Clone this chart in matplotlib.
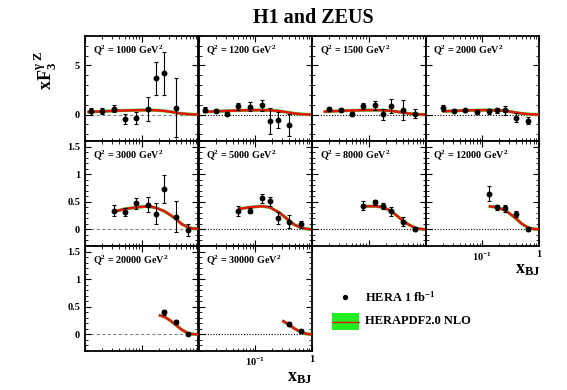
import numpy as np
import matplotlib
matplotlib.use("Agg")
import matplotlib.pyplot as plt
from matplotlib.ticker import MultipleLocator, LogLocator, NullFormatter, FixedLocator
from matplotlib.patches import Rectangle
from matplotlib.lines import Line2D

plt.rcParams['font.family'] = ['Liberation Serif', 'DejaVu Serif']
plt.rcParams['font.weight'] = 'bold'
plt.rcParams['mathtext.fontset'] = 'custom'
plt.rcParams['mathtext.rm'] = 'Liberation Serif:bold'
plt.rcParams['mathtext.it'] = 'Liberation Serif:bold'
plt.rcParams['mathtext.bf'] = 'Liberation Serif:bold'

# ---------------- data ----------------
q2_values = [1000, 1200, 1500, 2000, 3000, 5000, 8000, 12000, 20000, 30000]

data_x = [
    [0.013, 0.02, 0.032, 0.05, 0.08, 0.13, 0.18, 0.25, 0.40],
    [0.013, 0.02, 0.032, 0.05, 0.08, 0.13, 0.18, 0.25, 0.40],
    [0.02, 0.032, 0.05, 0.08, 0.13, 0.18, 0.25, 0.40, 0.65],
    [0.02, 0.032, 0.05, 0.08, 0.13, 0.18, 0.25, 0.40, 0.65],
    [0.032, 0.05, 0.08, 0.13, 0.18, 0.25, 0.40, 0.65],
    [0.05, 0.08, 0.13, 0.18, 0.25, 0.40, 0.65],
    [0.08, 0.13, 0.18, 0.25, 0.40, 0.65],
    [0.13, 0.18, 0.25, 0.40, 0.65],
    [0.25, 0.40, 0.65],
    [0.40, 0.65],
]
data_y = [
    [0.34, 0.37, 0.61, -0.44, -0.34, 0.58, 3.7, 4.2, 0.68],
    [0.51, 0.37, 0.10, 0.82, 0.78, 0.92, -0.65, -0.54, -1.05],
    [0.54, 0.51, 0.03, 0.88, 0.95, 0.03, 0.88, 0.48, 0.07],
    [0.68, 0.37, 0.44, 0.24, 0.31, 0.41, 0.41, -0.34, -0.65],
    [0.34, 0.31, 0.47, 0.45, 0.28, 0.73, 0.23, -0.01],
    [0.34, 0.34, 0.56, 0.51, 0.21, 0.14, 0.09],
    [0.43, 0.49, 0.42, 0.33, 0.14, 0.00],
    [0.65, 0.40, 0.38, 0.28, 0.00],
    [0.40, 0.23, 0.01],
    [0.19, 0.06],
]
data_err = [
    [0.35, 0.30, 0.40, 0.50, 0.60, 1.25, 1.70, 2.20, 3.00],
    [0.25, 0.20, 0.20, 0.40, 0.45, 0.60, 1.35, 0.80, 1.10],
    [0.20, 0.20, 0.20, 0.30, 0.45, 0.55, 0.75, 1.00, 0.45],
    [0.30, 0.15, 0.15, 0.15, 0.30, 0.30, 0.45, 0.45, 0.35],
    [0.10, 0.07, 0.10, 0.14, 0.19, 0.26, 0.28, 0.10],
    [0.09, 0.05, 0.08, 0.08, 0.11, 0.12, 0.07],
    [0.08, 0.05, 0.05, 0.08, 0.08, 0.03],
    [0.13, 0.05, 0.06, 0.06, 0.03],
    [0.04, 0.04, 0.02],
    [0.03, 0.03],
]

# HERAPDF2.0 NLO prediction
curve_x = [
    [0.011, 0.013, 0.02, 0.032, 0.05, 0.08, 0.13, 0.18, 0.25, 0.32, 0.40, 0.50, 0.65, 0.80, 1.0],
    [0.012, 0.013, 0.02, 0.032, 0.05, 0.08, 0.13, 0.18, 0.25, 0.32, 0.40, 0.50, 0.65, 0.80, 1.0],
    [0.016, 0.02, 0.032, 0.05, 0.08, 0.13, 0.18, 0.25, 0.32, 0.40, 0.50, 0.65, 0.80, 1.0],
    [0.02, 0.032, 0.05, 0.08, 0.13, 0.18, 0.25, 0.32, 0.40, 0.50, 0.65, 0.80, 1.0],
    [0.032, 0.05, 0.08, 0.13, 0.18, 0.25, 0.32, 0.40, 0.50, 0.65, 0.80, 1.0],
    [0.05, 0.08, 0.13, 0.18, 0.25, 0.32, 0.40, 0.50, 0.65, 0.80, 1.0],
    [0.08, 0.13, 0.18, 0.25, 0.32, 0.40, 0.50, 0.65, 0.80, 1.0],
    [0.13, 0.18, 0.25, 0.32, 0.40, 0.50, 0.65, 0.80, 1.0],
    [0.20, 0.25, 0.32, 0.40, 0.50, 0.65, 0.80, 1.0],
    [0.30, 0.40, 0.50, 0.65, 0.80, 1.0],
]
curve_y = [
    [0.25, 0.27, 0.32, 0.37, 0.41, 0.44, 0.45, 0.43, 0.37, 0.28, 0.19, 0.10, 0.04, 0.01, 0.0],
    [0.26, 0.27, 0.32, 0.37, 0.41, 0.44, 0.45, 0.43, 0.37, 0.28, 0.19, 0.10, 0.04, 0.01, 0.0],
    [0.29, 0.32, 0.37, 0.41, 0.44, 0.45, 0.43, 0.37, 0.28, 0.19, 0.10, 0.04, 0.01, 0.0],
    [0.32, 0.37, 0.41, 0.44, 0.45, 0.43, 0.37, 0.28, 0.19, 0.10, 0.04, 0.01, 0.0],
    [0.32, 0.37, 0.40, 0.42, 0.39, 0.33, 0.26, 0.19, 0.10, 0.04, 0.015, 0.01],
    [0.37, 0.40, 0.42, 0.40, 0.32, 0.24, 0.15, 0.08, 0.03, 0.01, 0.0],
    [0.42, 0.42, 0.40, 0.33, 0.24, 0.16, 0.09, 0.03, 0.01, 0.0],
    [0.42, 0.40, 0.35, 0.27, 0.19, 0.10, 0.03, 0.01, 0.0],
    [0.35, 0.32, 0.25, 0.17, 0.09, 0.02, 0.005, 0.0],
    [0.25, 0.17, 0.10, 0.04, 0.01, 0.0],
]

# ---------------- layout ----------------
W, H = 567, 390
fig = plt.figure(figsize=(W / 100, H / 100), dpi=100)

left_px = 85
col_w = 113.5
row_tops = [36, 141, 246]
row_h = 105

def make_axes(row, col):
    x0 = (left_px + col * col_w) / W
    y0 = 1 - (row_tops[row] + row_h) / H
    return fig.add_axes([x0, y0, col_w / W, row_h / H])

positions = [(0, 0), (0, 1), (0, 2), (0, 3),
             (1, 0), (1, 1), (1, 2), (1, 3),
             (2, 0), (2, 1)]

for i, q2 in enumerate(q2_values):
    row, col = positions[i]
    ax = make_axes(row, col)
    ax.set_xscale('log')
    ax.set_xlim(0.01, 1.0)
    if row == 0:
        ax.set_ylim(-2.7, 8.0)
        ax.yaxis.set_major_locator(FixedLocator([0, 5]))
        ax.yaxis.set_minor_locator(MultipleLocator(1))
    else:
        ax.set_ylim(-0.3, 1.6)
        ax.yaxis.set_major_locator(FixedLocator([0, 0.5, 1, 1.5]))
        ax.yaxis.set_minor_locator(MultipleLocator(0.1))

    # zero line
    if col == 0:
        ax.axhline(0, color='#888888', lw=0.8, ls=(0, (3, 2)), zorder=1)
    else:
        ax.axhline(0, color='black', lw=0.8, ls=(0, (1, 1.5)), zorder=1)

    # theory band
    ax.plot(curve_x[i], curve_y[i], color='#22ee22', lw=2.3, zorder=2,
            solid_capstyle='butt')
    ax.plot(curve_x[i], curve_y[i], color='#ee1111', lw=1.8, zorder=3,
            solid_capstyle='butt')

    # data
    ax.errorbar(data_x[i], data_y[i], yerr=data_err[i], fmt='o', color='black',
                ms=3.2, elinewidth=0.8, capsize=1.3, capthick=0.8, zorder=4)

    ax.text(0.07, 0.93, r'Q$^{\mathrm{2}}$ = %d GeV$^{\mathrm{2}}$' % q2,
            transform=ax.transAxes, ha='left', va='top', fontsize=7.3,
            fontweight='bold')

    ax.tick_params(which='both', direction='in', top=True, right=True,
                   labelsize=7.5)
    ax.tick_params(which='major', length=4, width=0.8)
    ax.tick_params(which='minor', length=2, width=0.6)
    ax.xaxis.set_major_locator(FixedLocator([0.01, 0.1, 1.0]))
    ax.xaxis.set_minor_locator(LogLocator(base=10, subs=np.arange(2, 10)))
    ax.xaxis.set_minor_formatter(NullFormatter())

    if (row, col) in [(2, 1), (1, 3)]:
        ax.set_xticks([0.1, 1.0])
        ax.set_xticklabels([r'10$^{-1}$', '1'])
        ax.tick_params(axis='x', labelsize=7.5, pad=3)
    else:
        ax.set_xticklabels([])

    if col == 0:
        if row == 0:
            ax.set_yticklabels(['0', '5'])
        else:
            ax.set_yticklabels(['0', '0.5', '1', '1.5'])
    else:
        ax.set_yticklabels([])

    for s in ax.spines.values():
        s.set_linewidth(1.3)

# ---------------- texts ----------------
fig.text(313 / W, 1 - 18 / H, 'H1 and ZEUS', ha='center', va='center',
         fontsize=14.5, fontweight='bold')

fig.text(45 / W, 1 - 70 / H, r'xF$_{\mathrm{3}}^{\gamma\ \mathrm{Z}}$', rotation=90,
         ha='center', va='center', fontsize=13, fontweight='bold')

fig.text(312 / W, 1 - 378 / H, r'x$_{\mathrm{BJ}}$', ha='right', va='center',
         fontsize=13, fontweight='bold')
fig.text(540 / W, 1 - 269 / H, r'x$_{\mathrm{BJ}}$', ha='right', va='center',
         fontsize=13, fontweight='bold')

# ---------------- legend ----------------
fig.add_artist(Line2D([345 / W], [1 - 297 / H], marker='o', color='black',
                      ms=2.8, transform=fig.transFigure))
fig.text(365 / W, 1 - 297 / H, r'HERA 1 fb$^{-1}$', ha='left', va='center',
         fontsize=9, fontweight='bold')
fig.add_artist(Rectangle((332 / W, 1 - 330 / H), 27 / W, 17 / H,
                         facecolor='#22ee22', edgecolor='none',
                         transform=fig.transFigure))
fig.add_artist(Line2D([332 / W, 359 / W], [1 - 321.5 / H, 1 - 321.5 / H],
                      color='#ee1111', lw=1.0, transform=fig.transFigure))
fig.text(365 / W, 1 - 321 / H, 'HERAPDF2.0 NLO', ha='left', va='center',
         fontsize=9, fontweight='bold')

fig.savefig('out.png', dpi=100)
